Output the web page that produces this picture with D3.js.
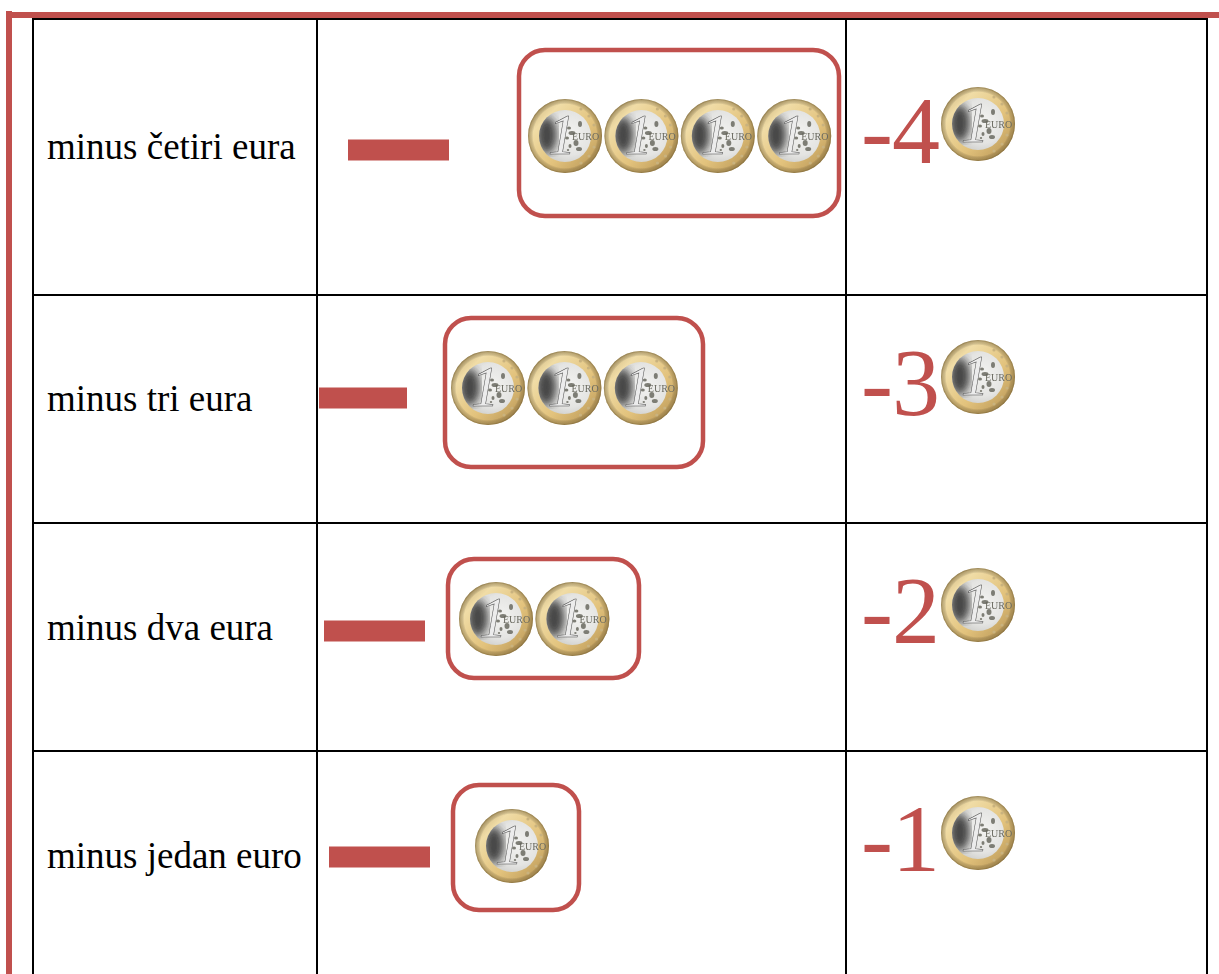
<!DOCTYPE html>
<html>
<head>
  <meta charset="utf-8">
  <script src="https://d3js.org/d3.v7.min.js"></script>
  <style>
    html, body { margin: 0; padding: 0; background: #fff; overflow: hidden; }
    svg { display: block; }
    text { font-family: "Liberation Serif", serif; }
  </style>
</head>
<body>
<div id="chart"></div>
<script>
// values
const labels = ["minus četiri eura", "minus tri eura", "minus dva eura", "minus jedan euro"];
const coinCounts = [4, 3, 2, 1];
const results = ["-4", "-3", "-2", "-1"];

// layout, one entry per row
const rowTops = [19, 295, 523, 751, 1100];
const columnEdges = [33, 317, 846, 1207];
const coinRowY = [136, 388, 619, 846];
const firstCoinX = [565, 488, 496, 512];
const dashLeft = [348, 319, 324, 329];
const dashRight = [449, 407, 425, 430];
const dashY = [150, 398, 631, 857];
const boxLeft = [519, 445, 448, 453];
const boxRight = [839, 703, 639, 579];
const boxTop = [50, 318, 559, 785];
const boxBottom = [216, 467, 678, 910];
const labelBaseline = [159, 411, 640, 868];
const resultBaseline = [163, 415, 643, 871];
const resultCoinY = [124, 377, 605, 833];

const width = 1219, height = 974;
const red = "#c0504d";

const svg = d3.select("#chart").append("svg")
  .attr("width", width)
  .attr("height", height);

const defs = svg.append("defs");

const ring = defs.append("linearGradient").attr("id", "ring")
  .attr("x1", 0).attr("y1", 0).attr("x2", 1).attr("y2", 1);
[[0, "#b8a06a"], [0.25, "#f0dca6"], [0.6, "#e2c27c"], [1, "#b08d4e"]].forEach(s =>
  ring.append("stop").attr("offset", s[0]).attr("stop-color", s[1]));

const rim = defs.append("radialGradient").attr("id", "rim");
[[0.86, "#000", 0], [0.95, "#6d5a30", 0.35], [1, "#6d5a30", 0.7]].forEach(s =>
  rim.append("stop").attr("offset", s[0]).attr("stop-color", s[1]).attr("stop-opacity", s[2]));

const centre = defs.append("radialGradient").attr("id", "centre")
  .attr("cx", 0.6).attr("cy", 0.45).attr("r", 0.7);
[[0, "#f2f2f0"], [0.6, "#e4e4e2"], [1, "#c6c6c2"]].forEach(s =>
  centre.append("stop").attr("offset", s[0]).attr("stop-color", s[1]));

// blur softens the coin so it reads like the small photo in the reference
defs.append("filter").attr("id", "soft").append("feGaussianBlur").attr("stdDeviation", 0.55);
defs.append("filter").attr("id", "shade").append("feGaussianBlur").attr("stdDeviation", 4);
defs.append("clipPath").attr("id", "inner").append("circle").attr("r", 26);

const coin = defs.append("g").attr("id", "coin").attr("filter", "url(#soft)");
coin.append("circle").attr("r", 37).attr("fill", "url(#ring)");
coin.append("circle").attr("r", 37).attr("fill", "url(#rim)");
// stars on the ring, right side
[[24, -20], [29, -11], [31, 0], [29, 11], [24, 20], [16, 27], [16, -27]].forEach(p =>
  coin.append("circle").attr("cx", p[0]).attr("cy", p[1]).attr("r", 1.6).attr("fill", "#c9b27e"));
coin.append("circle").attr("r", 26).attr("fill", "url(#centre)");
const inner = coin.append("g").attr("clip-path", "url(#inner)");
inner.append("ellipse")
  .attr("cx", -18).attr("cy", -1).attr("rx", 10).attr("ry", 18)
  .attr("fill", "#2a2a2a").attr("opacity", 0.85).attr("filter", "url(#shade)");
coin.append("text")
  .attr("x", -17).attr("y", 18)
  .attr("font-size", 56).attr("font-style", "italic")
  .attr("fill", "#ececec").attr("stroke", "#4a4a4a").attr("stroke-width", 0.5)
  .text("1");
[[4, -8, 2, 1.5], [7, -3, 3.5, 2], [2, 2, 2, 1.5], [11, 7, 2.5, 3], [5, 10, 1.5, 2], [15, -12, 2, 3], [14, 13, 3, 2], [3, 14, 1.2, 1]].forEach(b =>
  coin.append("ellipse")
    .attr("cx", b[0]).attr("cy", b[1]).attr("rx", b[2]).attr("ry", b[3])
    .attr("fill", "#7d7d74"));
coin.append("text")
  .attr("x", 7).attr("y", 4)
  .attr("font-size", 10)
  .attr("fill", "#6a6a60")
  .text("EURO");

// table grid, rows and columns come from the edge arrays
const rowScale = d3.scaleOrdinal(d3.range(rowTops.length), rowTops);
const columnScale = d3.scaleOrdinal(d3.range(columnEdges.length), columnEdges);

svg.selectAll(".row-line")
  .data(d3.range(rowTops.length - 1))
  .enter().append("line")
  .attr("class", "row-line")
  .attr("x1", columnEdges[0] - 1)
  .attr("x2", columnEdges[columnEdges.length - 1] + 1)
  .attr("y1", d => rowScale(d))
  .attr("y2", d => rowScale(d))
  .attr("stroke", "#000")
  .attr("stroke-width", 2);

svg.selectAll(".col-line")
  .data(d3.range(columnEdges.length))
  .enter().append("line")
  .attr("class", "col-line")
  .attr("x1", d => columnScale(d))
  .attr("x2", d => columnScale(d))
  .attr("y1", rowTops[0])
  .attr("y2", height)
  .attr("stroke", "#000")
  .attr("stroke-width", 2);

// red frame on top and left
svg.append("rect").attr("x", 6).attr("y", 12).attr("width", width - 6).attr("height", 6).attr("fill", red);
svg.append("rect").attr("x", 6).attr("y", 11).attr("width", 6).attr("height", height - 11).attr("fill", red);

const rows = svg.selectAll(".row")
  .data(labels)
  .enter().append("g")
  .attr("class", "row");

rows.append("text")
  .attr("x", 47)
  .attr("y", (d, i) => labelBaseline[i])
  .attr("font-size", 37)
  .attr("fill", "#000")
  .text(d => d);

rows.append("rect")
  .attr("x", (d, i) => dashLeft[i])
  .attr("y", (d, i) => dashY[i] - 10.5)
  .attr("width", (d, i) => dashRight[i] - dashLeft[i])
  .attr("height", 21)
  .attr("fill", red);

rows.append("rect")
  .attr("x", (d, i) => boxLeft[i])
  .attr("y", (d, i) => boxTop[i])
  .attr("width", (d, i) => boxRight[i] - boxLeft[i])
  .attr("height", (d, i) => boxBottom[i] - boxTop[i])
  .attr("rx", 26)
  .attr("fill", "none")
  .attr("stroke", red)
  .attr("stroke-width", 4.5);

// coins step along a linear scale from the first coin in each row
const coinStep = d3.scaleLinear().domain([0, 1]).range([0, 76.4]);

rows.each(function(d, i) {
  d3.select(this).selectAll(".coin")
    .data(d3.range(coinCounts[i]))
    .enter().append("use")
    .attr("class", "coin")
    .attr("href", "#coin")
    .attr("x", k => firstCoinX[i] + coinStep(k))
    .attr("y", coinRowY[i]);
});

rows.append("text")
  .attr("x", 861)
  .attr("y", (d, i) => resultBaseline[i])
  .attr("font-size", 96)
  .attr("letter-spacing", "-1px")
  .attr("fill", red)
  .text((d, i) => results[i]);

rows.append("use")
  .attr("href", "#coin")
  .attr("x", 978)
  .attr("y", (d, i) => resultCoinY[i]);
</script>
</body>
</html>
